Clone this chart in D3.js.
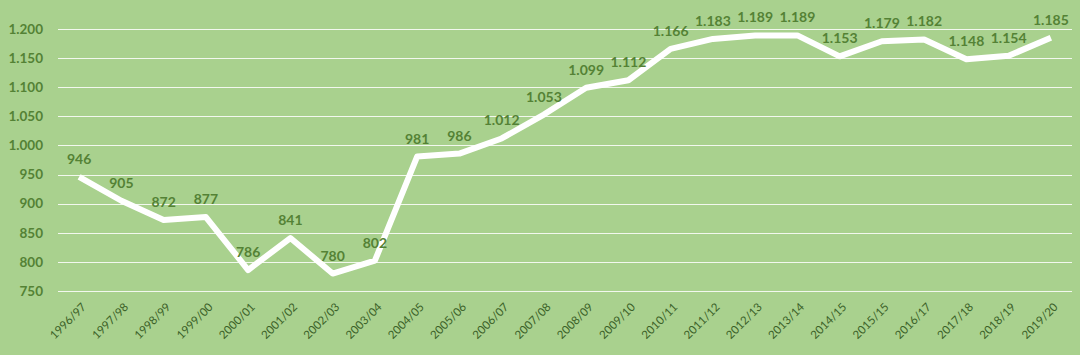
<!DOCTYPE html>
<html>
<head>
<meta charset="utf-8">
<script src="https://cdn.jsdelivr.net/npm/d3@7"></script>
<style>
  html, body { margin: 0; padding: 0; background: #a9d18e; }
  svg { display: block; font-family: Lato, "Open Sans", sans-serif; }
</style>
</head>
<body>
<svg id="chart" width="1080" height="355"></svg>
<script>
const years = ['1996/97', '1997/98', '1998/99', '1999/00', '2000/01', '2001/02', '2002/03', '2003/04',
    '2004/05', '2005/06', '2006/07', '2007/08', '2008/09', '2009/10', '2010/11', '2011/12',
    '2012/13', '2013/14', '2014/15', '2015/15', '2016/17', '2017/18', '2018/19', '2019/20']
const values = [946, 905, 872, 877, 786, 841, 780, 802, 981, 986, 1012, 1053, 1099, 1112,
    1166, 1183, 1189, 1189, 1153, 1179, 1182, 1148, 1154, 1185]
const yTicks = [750, 800, 850, 900, 950, 1000, 1050, 1100, 1150, 1200]

const svg = d3.select('#chart')
const width = 1080
const height = 355

// Spanish style number: 1.200
const fmt = d3.formatLocale({ decimal: ',', thousands: '.', grouping: [3], currency: ['', ''] }).format(',d')

const x = d3.scaleBand()
    .domain(years)
    .range([58, 1072])

const y = d3.scaleLinear()
    .domain([750, 1200])
    .range([291, 29])

svg.append('rect')
    .attr('width', width)
    .attr('height', height)
    .attr('fill', '#a9d18e')

// gridlines
svg.append('g')
    .selectAll('line')
    .data(yTicks)
    .join('line')
    .attr('x1', 58)
    .attr('x2', 1072)
    .attr('y1', d => Math.round(y(d)) + 0.5)
    .attr('y2', d => Math.round(y(d)) + 0.5)
    .attr('stroke', '#ffffff')
    .attr('stroke-opacity', 0.85)
    .attr('stroke-width', 1)

// y labels
svg.append('g')
    .selectAll('text')
    .data(yTicks)
    .join('text')
    .attr('x', 43)
    .attr('y', d => y(d))
    .attr('dy', '0.35em')
    .attr('text-anchor', 'end')
    .attr('fill', '#548235')
    .style('font-size', '13.5px')
    .style('font-weight', 700)
    .text(d => fmt(d))

// x labels
svg.append('g')
    .selectAll('text')
    .data(years)
    .join('text')
    .attr('transform', d => `translate(${x(d) + x.bandwidth() / 2 + 2},${302}) rotate(-45)`)
    .attr('text-anchor', 'end')
    .attr('dy', '0.7em')
    .attr('fill', '#3b6128')
    .style('font-size', '11.5px')
    .text(d => d)

const line = d3.line()
    .x((d, i) => x(years[i]) + x.bandwidth() / 2)
    .y(d => y(d))

svg.append('path')
    .datum(values)
    .attr('d', line)
    .attr('fill', 'none')
    .attr('stroke', '#ffffff')
    .attr('stroke-width', 6)
    .attr('stroke-linejoin', 'round')

// data labels
svg.append('g')
    .selectAll('text')
    .data(values)
    .join('text')
    .attr('x', (d, i) => x(years[i]) + x.bandwidth() / 2)
    .attr('y', d => y(d) - 13)
    .attr('text-anchor', 'middle')
    .attr('fill', '#548235')
    .style('font-size', '14px')
    .style('font-weight', 700)
    .text(d => fmt(d))
</script>
</body>
</html>
